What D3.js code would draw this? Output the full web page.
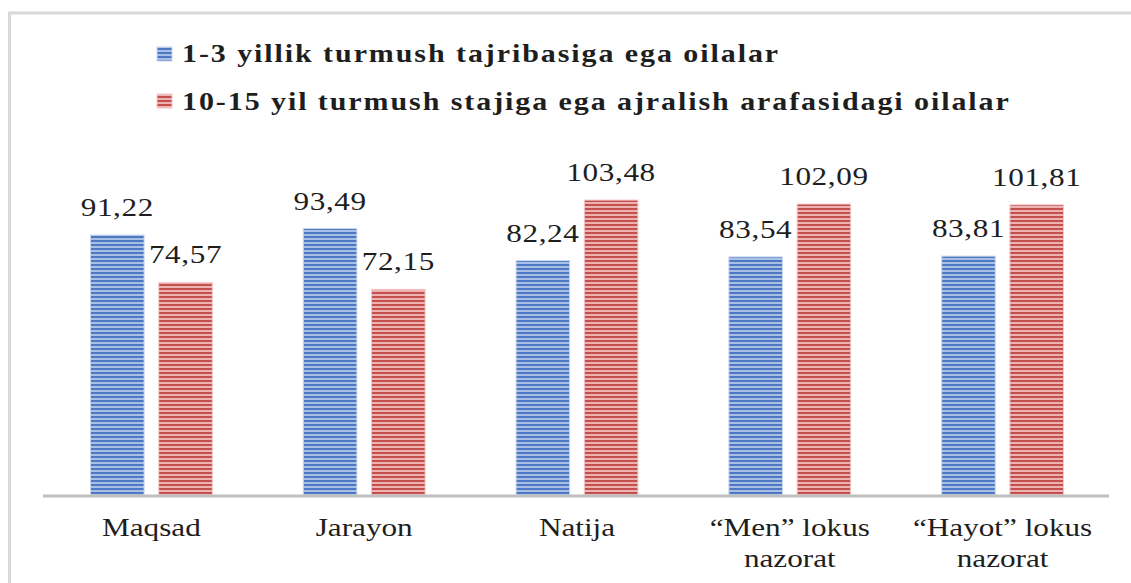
<!DOCTYPE html>
<html>
<head>
<meta charset="utf-8">
<script src="https://cdn.jsdelivr.net/npm/d3@7"></script>
<style>
  body { margin: 0; background: #fff; }
  text { font-family: "Liberation Serif", "Times New Roman", serif; fill: #1e1e1e; }
</style>
</head>
<body>
<div class="chart"></div>
<script>
var svgWidth = 1131;
var svgHeight = 583;

// data
var categories = ["Maqsad", "Jarayon", "Natija", "“Men” lokus|nazorat", "“Hayot” lokus|nazorat"];
var seriesNames = ["1-3 yillik turmush tajribasiga ega oilalar",
                   "10-15 yil turmush stajiga ega ajralish arafasidagi oilalar"];
var youngFamilies = [91.22, 93.49, 82.24, 83.54, 83.81];
var divorcingFamilies = [74.57, 72.15, 103.48, 102.09, 101.81];
var valueLabels = [
    ["91,22", "93,49", "82,24", "83,54", "83,81"],
    ["74,57", "72,15", "103,48", "102,09", "101,81"]
];

var seriesValues = [youngFamilies, divorcingFamilies];
var stretch = 1.2;   // the original picture is a bit wider than tall

var svg = d3.select(".chart")
    .append("svg")
    .attr("width", svgWidth)
    .attr("height", svgHeight);

// striped fills
var defs = svg.append("defs");
var fills = [
    { id: "blueStripes", back: "#a9bfe6", line: "#4d79c4", edge: "#c9d7f0" },
    { id: "redStripes", back: "#edb2b1", line: "#c4504e", edge: "#f2c9c8" }
];
fills.forEach(function (f) {
    var p = defs.append("pattern")
        .attr("id", f.id)
        .attr("patternUnits", "userSpaceOnUse")
        .attr("width", 8)
        .attr("height", 4);
    p.append("rect").attr("width", 8).attr("height", 4).attr("fill", f.back);
    p.append("rect").attr("y", 0).attr("width", 8).attr("height", 2).attr("fill", f.line);
});

// outer frame
svg.append("rect")
    .attr("x", 9.5)
    .attr("y", 13)
    .attr("width", 1140)
    .attr("height", 600)
    .attr("fill", "none")
    .attr("stroke", "#d9d9d9")
    .attr("stroke-width", 3);

var x0 = d3.scaleBand()
    .domain(categories)
    .range([45, 1109])
    .paddingInner(0)
    .paddingOuter(0);

var x1 = d3.scaleBand()
    .domain([0, 1])
    .range([45, x0.bandwidth() - 45])
    .paddingInner(0.2);

var y = d3.scaleLinear()
    .domain([0, 110])
    .range([495, 495 - 2.85 * 110]);

var groups = svg.append("g").selectAll("g")
    .data(categories)
    .enter()
    .append("g")
    .attr("transform", d => `translate(${x0(d)},0)`);

groups.selectAll("rect")
    .data((d, i) => [0, 1].map(s => ({ s: s, v: seriesValues[s][i], label: valueLabels[s][i] })))
    .enter()
    .append("rect")
    .attr("x", d => x1(d.s) + 0.5)
    .attr("y", d => y(d.v))
    .attr("width", x1.bandwidth() - 1)
    .attr("height", d => y(0) - y(d.v))
    .attr("fill", d => `url(#${fills[d.s].id})`)
    .attr("stroke", d => fills[d.s].edge)
    .attr("stroke-width", 1);

groups.selectAll("text.value")
    .data((d, i) => [0, 1].map(s => ({ s: s, v: seriesValues[s][i], label: valueLabels[s][i] })))
    .enter()
    .append("text")
    .attr("class", "value")
    .attr("transform", d => `translate(${x1(d.s) + x1.bandwidth() / 2},${y(d.v) - 19}) scale(${stretch},1)`)
    .attr("text-anchor", "middle")
    .style("font-size", "26px")
    .style("letter-spacing", "0.5px")
    .text(d => d.label);

// axis line
svg.append("line")
    .attr("x1", 43)
    .attr("x2", 1109)
    .attr("y1", 496)
    .attr("y2", 496)
    .attr("stroke", "#bfbfbf")
    .attr("stroke-width", 3);

// category labels
groups.each(function (d) {
    var lines = d.split("|");
    var g = d3.select(this);
    lines.forEach(function (line, k) {
        g.append("text")
            .attr("transform", `translate(${x0.bandwidth() / 2},${536 + k * 31}) scale(${stretch},1)`)
            .attr("text-anchor", "middle")
            .style("font-size", "26px")
            .text(line);
    });
});

// legend
var legend = svg.append("g");
seriesNames.forEach(function (name, i) {
    legend.append("rect")
        .attr("x", 157)
        .attr("y", 47 + i * 47)
        .attr("width", 15)
        .attr("height", 14)
        .attr("fill", `url(#${fills[i].id})`)
        .attr("stroke", fills[i].edge);
    legend.append("text")
        .attr("transform", `translate(182,${62 + i * 48}) scale(${stretch},1)`)
        .style("font-size", "25px")
        .style("font-weight", "bold")
        .style("letter-spacing", "1.6px")
        .text(name);
});
</script>
</body>
</html>
